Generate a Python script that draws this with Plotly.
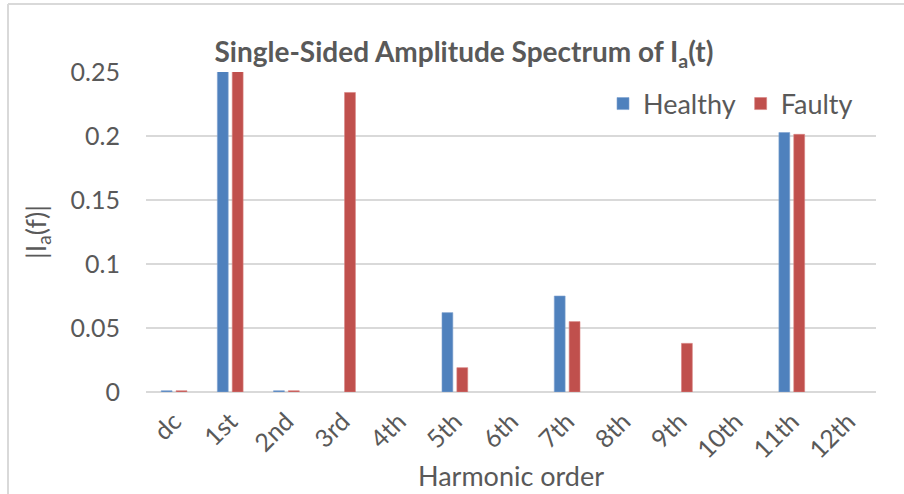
import plotly.graph_objects as go

categories = ["dc", "1st", "2nd", "3rd", "4th", "5th", "6th", "7th", "8th", "9th", "10th", "11th", "12th"]
healthy = [0.001, 1.0, 0.001, None, None, 0.062, None, 0.075, None, None, None, 0.2027, None]
faulty = [0.001, 1.0, 0.001, 0.234, None, 0.019, None, 0.055, None, 0.038, None, 0.2013, None]
y_ticks = [0, 0.05, 0.1, 0.15, 0.2, 0.25]
y_tick_labels = ["0", "0.05", "0.1", "0.15", "0.2", "0.25"]

FONT = "Lato"
GRAY = "#595959"

L, R, T, B = 146, 28, 72, 102
PW, PH = 904 - L - R, 494 - T - B

fig = go.Figure()
fig.add_trace(go.Bar(x=categories, y=healthy, name="Healthy",
                     marker=dict(color="#4F81BD", line=dict(color="#7FA3D0", width=0.6))))
fig.add_trace(go.Bar(x=categories, y=faulty, name="Faulty",
                     marker=dict(color="#C0504D", line=dict(color="#D98280", width=0.6))))

fig.update_layout(
    width=904, height=494,
    margin=dict(l=L, r=R, t=T, b=B, autoexpand=False),
    paper_bgcolor="white", plot_bgcolor="white",
    barmode="group", bargap=0.47, bargroupgap=0.27,
    title=dict(text="<b>Single-Sided Amplitude Spectrum of I<sub>a</sub>(t)</b>",
               x=464 / 904, xanchor="center", y=1 - 52 / 494, yanchor="middle",
               font=dict(family=FONT, size=28, color=GRAY)),
    legend=dict(orientation="h", x=(858 - L) / PW, xanchor="right",
                y=(T + PH - 104) / PH, yanchor="middle",
                font=dict(family=FONT, size=27, color=GRAY),
                bgcolor="rgba(0,0,0,0)", itemwidth=30, traceorder="normal"),
    font=dict(family=FONT, color=GRAY),
    xaxis=dict(tickangle=-45, tickfont=dict(family=FONT, size=25, color=GRAY),
               showgrid=False, showline=False, ticks="", automargin=False,
               ticklabelstandoff=9,
               title=dict(text="Harmonic order", font=dict(family=FONT, size=27, color=GRAY), standoff=4)),
    yaxis=dict(range=[0, 0.25], tickvals=y_ticks, ticktext=y_tick_labels,
               tickfont=dict(family=FONT, size=25, color=GRAY),
               showgrid=True, gridcolor="#D9D9D9", gridwidth=1.5,
               zeroline=True, zerolinecolor="#D9D9D9", zerolinewidth=1.5,
               showline=False, ticks="", ticklabelstandoff=25, automargin=False,
               title=dict(text="|I<sub>a</sub>(f)|", font=dict(family=FONT, size=27, color=GRAY), standoff=16)),
    shapes=[
        dict(type="line", xref="paper", yref="paper", x0=(8 - L) / PW, x1=(8 - L) / PW,
             y0=-B / PH, y1=(PH + T - 4) / PH, line=dict(color="#D9D9D9", width=2)),
        dict(type="line", xref="paper", yref="paper", x0=(8 - L) / PW, x1=(PW + R) / PW,
             y0=(PH + T - 4) / PH, y1=(PH + T - 4) / PH, line=dict(color="#D9D9D9", width=2)),
    ],
)

fig.write_html("out.html", config={"displayModeBar": False},
               post_script="document.body.style.margin='0';document.body.style.padding='0';")
